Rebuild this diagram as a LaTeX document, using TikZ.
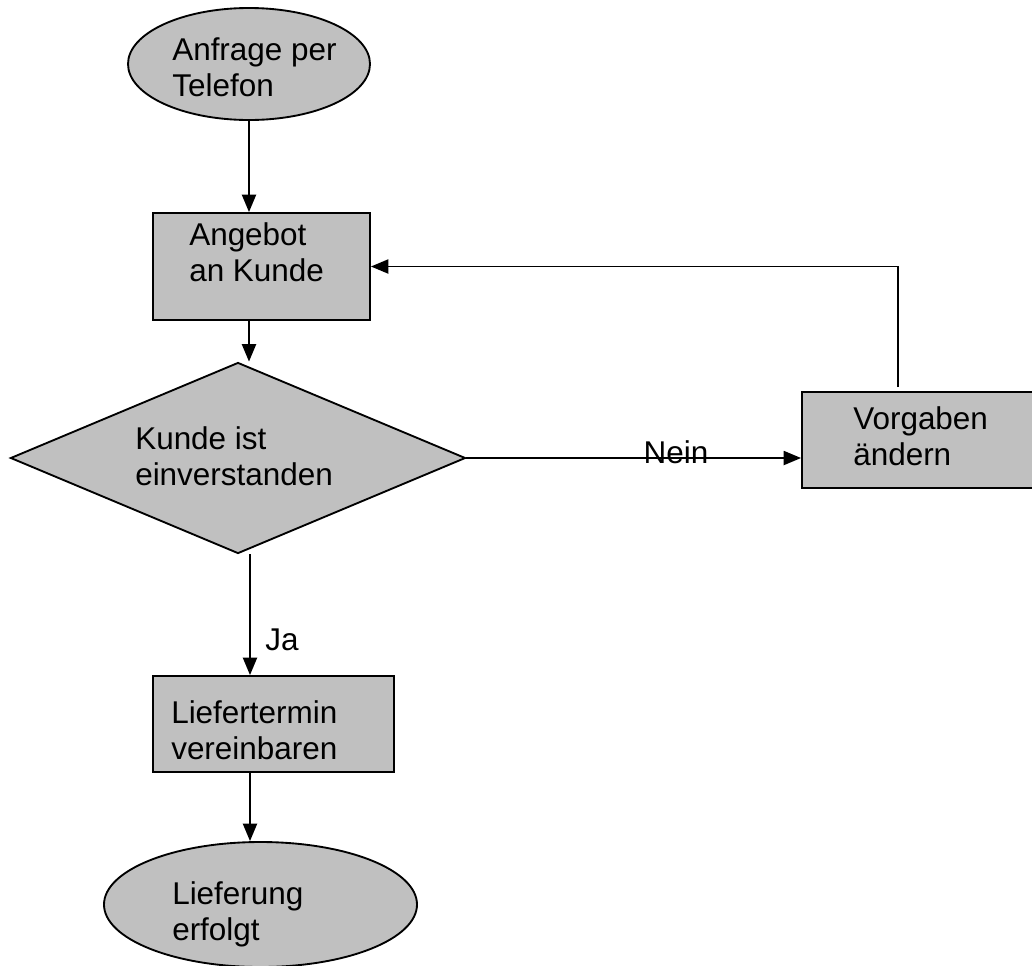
\documentclass[tikz,border=0pt]{standalone}
\usepackage{fontspec}
\setmainfont{Liberation Sans}
\usetikzlibrary{shapes.geometric,arrows.meta}
\definecolor{boxgray}{HTML}{C0C0C0}
\begin{document}
\begin{tikzpicture}[x=0.75pt,y=-0.75pt,
  every node/.style={inner sep=0pt},
  terminal/.style={ellipse,draw,fill=boxgray,line width=1.4pt},
  flowbox/.style={rectangle,draw,fill=boxgray,line width=1.4pt},
  decision/.style={diamond,draw,fill=boxgray,line width=1.4pt},
  txt/.style={anchor=west,align=left,font=\fontsize{23.6}{27}\selectfont},
  lbl/.style={font=\fontsize{23.6}{27}\selectfont},
  flow/.style={line width=1.4pt,-{Triangle[length=13pt,width=10.5pt]}}]
\useasboundingbox (0,0) rectangle (1032,965);

% shapes
\node[terminal,minimum width=242*0.75pt,minimum height=112*0.75pt] (anfrage) at (249,64) {};
\node[flowbox,minimum width=217*0.75pt,minimum height=107*0.75pt] (angebot) at (261.5,266.5) {};
\node[decision,minimum width=455*0.75pt,minimum height=191*0.75pt] (kunde) at (238,458) {};
\node[flowbox,minimum width=240*0.75pt,minimum height=96*0.75pt] (vorgaben) at (922,440) {};
\node[flowbox,minimum width=241*0.75pt,minimum height=96*0.75pt] (liefertermin) at (273.5,724) {};
\node[terminal,minimum width=313*0.75pt,minimum height=125*0.75pt] (lieferung) at (260.5,904.5) {};

% texts
\node[txt] (anfragetxt) at (172,67) {Anfrage per\\Telefon};
\node[txt] (angebottxt) at (189,252) {Angebot\\an Kunde};
\node[txt] (kundetxt) at (135,456) {Kunde ist\\einverstanden};
\node[txt] (vorgabentxt) at (853,436) {Vorgaben\\ändern};
\node[txt] (lieftermintxt) at (171,730) {Liefertermin\\vereinbaren};
\node[txt] (lieferungtxt) at (172,914) {Lieferung\\erfolgt};

% connectors
\coordinate (lowaxis) at (250,640);
\coordinate (loopfoot) at (898,387);
\coordinate (loophead) at (898,266.5);
\draw[flow] (anfrage.south) -- (anfrage.south |- angebot.north);
\draw[flow] (angebot.south -| anfrage.south) -- (anfrage.south |- kunde.north);
\draw[flow] (kunde.east) -- node[lbl,pos=0.626,yshift=4pt] (nein) {Nein} (kunde.east -| vorgaben.west);
\draw[flow] (loopfoot) -- (loophead) -- (angebot.east);
\draw[flow] (kunde.south -| lowaxis) -- (liefertermin.north -| lowaxis);
\node[lbl,anchor=west] (ja) at (265,640) {Ja};
\draw[flow] (liefertermin.south -| lowaxis) -- (lieferung.north -| lowaxis);
\end{tikzpicture}
\end{document}
